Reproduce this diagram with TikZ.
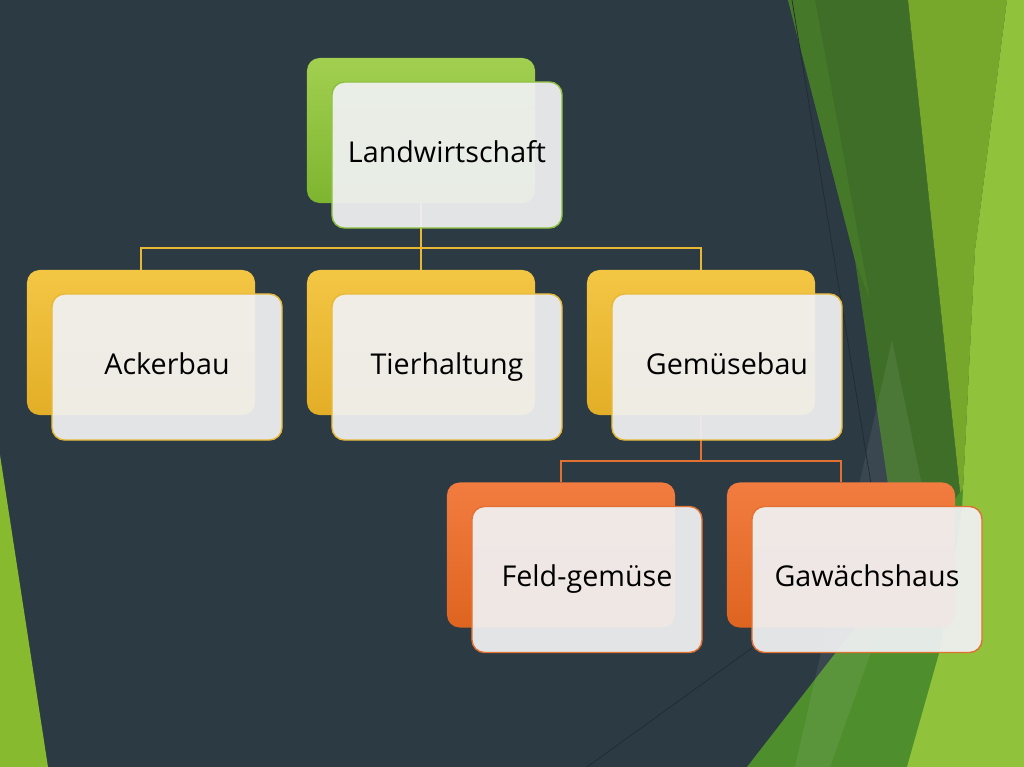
\documentclass[tikz,border=0pt]{standalone}
\usepackage{fontspec}
\setmainfont{Open Sans}
\usetikzlibrary{positioning}

% colours
\definecolor{slate}{RGB}{44,58,67}
\definecolor{darkleaf}{RGB}{63,110,40}
\definecolor{midleaf}{RGB}{119,168,43}
\definecolor{lightleaf}{RGB}{144,195,59}
\definecolor{lowleaf}{RGB}{79,142,45}
\definecolor{edgeleaf}{RGB}{70,120,42}
\definecolor{cornerleaf}{RGB}{136,186,47}
\definecolor{greentop}{RGB}{162,207,80}
\definecolor{greenbot}{RGB}{126,181,48}
\definecolor{greenline}{RGB}{140,192,62}
\definecolor{yellowtop}{RGB}{243,198,68}
\definecolor{yellowbot}{RGB}{227,174,39}
\definecolor{yellowline}{RGB}{232,184,52}
\definecolor{orangetop}{RGB}{242,124,64}
\definecolor{orangebot}{RGB}{222,100,32}
\definecolor{orangeline}{RGB}{226,112,48}
\definecolor{frontfill}{RGB}{240,241,243}

\begin{document}
\begin{tikzpicture}[x=0.025cm, y=-0.025cm,
    back/.style={rectangle, rounded corners=9pt, minimum width=5.7cm, minimum height=3.625cm},
    greenback/.style={back, top color=greentop, bottom color=greenbot},
    yellowback/.style={back, top color=yellowtop, bottom color=yellowbot},
    orangeback/.style={back, top color=orangetop, bottom color=orangebot},
    front/.style={rectangle, rounded corners=9pt, minimum width=5.75cm, minimum height=3.65cm,
        fill=frontfill, fill opacity=0.93, text opacity=1, line width=1pt, text=black,
        text height=1.0em, text depth=0pt, font=\fontsize{20.4}{24}\selectfont},
    ylink/.style={yellowline, line width=1.4pt},
    olink/.style={orangeline, line width=1.4pt}]

    % Background and leaves
    \useasboundingbox (0,0) rectangle (1024,767);
    \fill[slate] (0,0) rectangle (1024,767);
    \fill[cornerleaf] (0,455) -- (48,767) -- (0,767) -- cycle;
    \fill[darkleaf] (788,0) -- (908,0) -- (962,510) -- (905,600) -- (880,430) -- (855,260) -- cycle;
    \fill[edgeleaf] (788,0) -- (815,0) -- (870,300) -- (855,260) -- cycle;
    \fill[midleaf] (908,0) -- (1007,0) -- (975,250) -- (962,510) -- cycle;
    \fill[lowleaf] (747,767) -- (1024,410) -- (1024,767) -- cycle;
    \fill[white, opacity=0.07] (892,340) -- (925,500) -- (830,767) -- (795,767) -- cycle;
    \fill[lightleaf] (1007,0) -- (1024,0) -- (1024,767) -- (907,767) -- (940,650)
        -- (962,510) -- (975,250) -- cycle;
    \draw[black!25!slate, line width=0.5pt] (792,0) -- (872,490);
    \draw[black!25!slate, line width=0.5pt] (752,648) -- (587,767);

    % Back boxes
    \node[greenback] (landB) at (421,130.5) {};
    \node[yellowback] (ackerB) at (141,342.5) {};
    \node[yellowback] (tierB) at (421,342.5) {};
    \node[yellowback] (gemueseB) at (701,342.5) {};
    \node[orangeback] (feldB) at (561,555) {};
    \node[orangeback] (hausB) at (841,555) {};

    % Connectors
    \coordinate (fork1) at (421,248);
    \coordinate (fork2) at (701,461);
    \draw[ylink] (landB.south) -- (fork1) -| (ackerB.north);
    \draw[ylink] (fork1) -- (tierB.north);
    \draw[ylink] (fork1) -| (gemueseB.north);
    \draw[olink] (gemueseB.south) -- (fork2) -| (feldB.north);
    \draw[olink] (fork2) -| (hausB.north);

    % Front boxes
    \node[front, draw=greenline] (land) at ([shift={(26,24.5)}]landB.center) {Landwirtschaft};
    \node[front, draw=yellowline] (acker) at ([shift={(26,24.5)}]ackerB.center) {Ackerbau};
    \node[front, draw=yellowline] (tier) at ([shift={(26,24.5)}]tierB.center) {Tierhaltung};
    \node[front, draw=yellowline] (gemuese) at ([shift={(26,24.5)}]gemueseB.center) {Gemüsebau};
    \node[front, draw=orangeline] (feld) at ([shift={(26,24.5)}]feldB.center) {Feld-gemüse};
    \node[front, draw=orangeline] (haus) at ([shift={(26,24.5)}]hausB.center) {Gawächshaus};

\end{tikzpicture}
\end{document}
